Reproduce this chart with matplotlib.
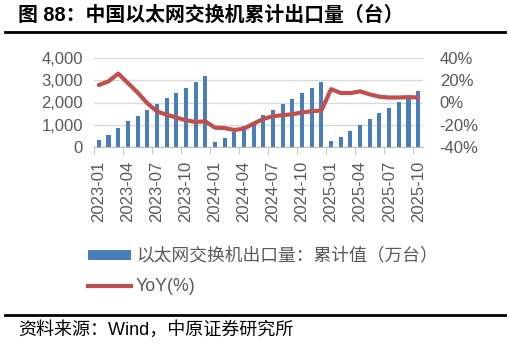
import matplotlib
matplotlib.use("Agg")
import matplotlib.pyplot as plt
from matplotlib.lines import Line2D
from matplotlib.patches import Patch
from matplotlib.ticker import FuncFormatter, FixedLocator

plt.rcParams['font.family'] = ['Liberation Sans', 'Noto Sans CJK SC', 'DejaVu Sans']

months = ['2023-01', '2023-02', '2023-03', '2023-04', '2023-05', '2023-06',
          '2023-07', '2023-08', '2023-09', '2023-10', '2023-11', '2023-12',
          '2024-01', '2024-02', '2024-03', '2024-04', '2024-05', '2024-06',
          '2024-07', '2024-08', '2024-09', '2024-10', '2024-11', '2024-12',
          '2025-01', '2025-02', '2025-03', '2025-04', '2025-05', '2025-06',
          '2025-07', '2025-08', '2025-09', '2025-10']
exports = [310, 545, 870, 1175, 1415, 1660, 1915, 2185, 2440, 2670, 2925, 3195,
           230, 410, 695, 930, 1145, 1418, 1675, 1930, 2142, 2413, 2670, 2940,
           270, 452, 724, 980, 1237, 1508, 1765, 2036, 2247, 2534]
yoy = [15.7, 19.0, 26.0, 17.5, 9.0, -0.6, -8.0, -11.0, -13.5, -16.0, -17.5, -17.0,
       -22.6, -23.0, -24.7, -23.5, -19.0, -14.7, -12.3, -11.4, -10.5, -9.0, -7.8, -7.2,
       12.0, 8.5, 8.5, 10.0, 7.3, 5.2, 4.5, 4.5, 4.8, 4.5]
bar_label = '以太网交换机出口量：累计值（万台）'
line_label = 'YoY(%)'
title = '图 88：中国以太网交换机累计出口量（台）'
source = '资料来源：Wind，中原证券研究所'

W, H = 510, 347
fig = plt.figure(figsize=(W / 100, H / 100), dpi=100)

def fx(px):
    return px / W

def fy(py):
    return 1 - py / H

left, right, top, bottom = 94, 423, 58, 147
ax = fig.add_axes([fx(left), fy(bottom), fx(right - left), (bottom - top) / H])
ax2 = ax.twinx()

x = list(range(len(months)))
gray = '#595959'
blue = '#4a7ebb'
red = '#c0504d'

ax.bar(x, exports, width=0.42, color=blue, zorder=2)
ax.set_ylim(0, 4000)
ax.set_xlim(-0.5, len(months) - 0.5)
ax.set_yticks([0, 1000, 2000, 3000, 4000])
ax.yaxis.set_major_formatter(FuncFormatter(lambda v, p: f'{int(v):,}'))
ax.grid(axis='y', color='#d9d9d9', linewidth=1, zorder=0)
ax.set_axisbelow(True)
for s in ['top', 'right', 'left']:
    ax.spines[s].set_visible(False)
ax.spines['bottom'].set_color('#bfbfbf')
ax.spines['bottom'].set_zorder(3)
ax.tick_params(axis='y', length=0, labelsize=12, labelcolor=gray, pad=8)

ax.set_xticks(x[::3])
ax.set_xticklabels(months[::3], rotation=90)
ax.xaxis.set_minor_locator(FixedLocator([i - 0.5 for i in range(0, len(months), 3)]))
ax.tick_params(axis='x', which='major', length=0, labelsize=12, labelcolor=gray, pad=10)
ax.tick_params(axis='x', which='minor', length=5, color='#bfbfbf')

ax2.plot(x, yoy, color=red, linewidth=3, zorder=4, solid_capstyle='round', solid_joinstyle='round')
ax2.set_ylim(-40, 40)
ax2.set_yticks([-40, -20, 0, 20, 40])
ax2.yaxis.set_major_formatter(FuncFormatter(lambda v, p: f'{int(v)}%'))
for s in ['top', 'right', 'left', 'bottom']:
    ax2.spines[s].set_visible(False)
ax2.tick_params(axis='y', length=0, labelsize=12, labelcolor=gray, pad=12)

handles = [Patch(facecolor=blue, edgecolor='none'),
           Line2D([0], [0], color=red, linewidth=3)]
fig.legend(handles, [bar_label, line_label], loc='upper left',
           bbox_to_anchor=(fx(72), fy(232)), frameon=False, fontsize=12.8,
           labelcolor=gray, handlelength=2.4, handleheight=0.5,
           handletextpad=0.3, labelspacing=0.75)

fig.text(fx(18), fy(15), title, fontsize=14.3, fontweight='bold', va='center', ha='left', color='black')
fig.add_artist(Line2D([fx(5), fx(505)], [fy(32), fy(32)], color='black', linewidth=2))
fig.add_artist(Line2D([fx(5), fx(505)], [fy(315), fy(315)], color='black', linewidth=2))
fig.text(fx(18), fy(330), source, fontsize=13, va='center', ha='left', color='black')

fig.savefig('out.png', dpi=100)
